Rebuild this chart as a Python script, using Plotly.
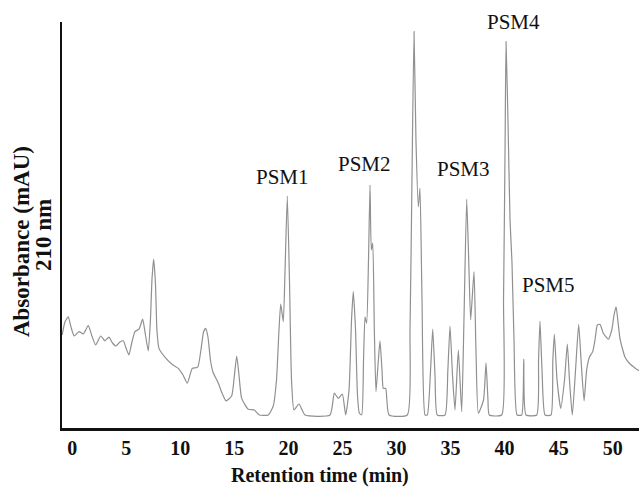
import plotly.graph_objects as go

# Retention time (min) and absorbance (arbitrary mAU scale)
time_min = [
    -0.92, -0.67, -0.36, -0.11, 0.19, 0.63, 1.03, 1.49, 1.83, 2.17,
    2.64, 3.03, 3.40, 3.73, 4.05, 4.42, 4.73, 4.98, 5.25, 5.53,
    5.81, 6.18, 6.52, 6.78, 7.04, 7.24, 7.38, 7.54, 7.71, 7.84,
    8.03, 8.58, 9.20, 9.82, 10.25, 10.65, 11.11, 11.61, 11.91, 12.15,
    12.35, 12.56, 12.79, 13.02, 13.52, 13.86, 14.23, 14.75, 15.01, 15.22,
    15.43, 15.68, 16.29, 16.85, 17.31, 18.14, 18.60, 18.90, 19.13, 19.29,
    19.53, 19.69, 19.90, 20.10, 20.29, 20.52, 20.98, 21.54, 23.85, 24.25,
    24.62, 24.99, 25.30, 25.61, 25.84, 26.00, 26.21, 26.39, 26.56, 26.78,
    26.95, 27.09, 27.24, 27.41, 27.55, 27.67, 27.80, 27.95, 28.10, 28.29,
    28.47, 28.66, 28.78, 29.00, 29.31, 31.00, 31.25, 31.43, 31.62, 31.80,
    32.02, 32.17, 32.36, 32.64, 32.85, 33.15, 33.35, 33.56, 33.77, 34.49,
    34.75, 34.95, 35.18, 35.41, 35.72, 36.03, 36.24, 36.49, 36.68, 36.86,
    37.17, 37.35, 37.57, 38.05, 38.28, 38.46, 38.58, 39.73, 39.90, 40.04,
    40.13, 40.31, 40.50, 40.68, 40.87, 41.15, 41.58, 41.77, 41.98, 42.97,
    43.14, 43.27, 43.46, 43.74, 44.29, 44.46, 44.60, 44.85, 45.19, 45.54,
    45.80, 46.00, 46.26, 46.56, 46.85, 47.07, 47.35, 47.59, 47.84, 48.15,
    48.36, 48.58, 48.83, 49.13, 49.59, 49.91, 50.12, 50.31, 50.49, 50.68,
    51.14, 51.60, 52.06, 52.43,
]
absorbance = [
    23.25, 26.5, 27.8, 25.25, 23.0, 24.1, 23.5, 25.6, 23.0, 20.75,
    23.0, 21.8, 22.7, 21.25, 20.5, 21.5, 21.8, 20.0, 18.25, 21.5,
    24.1, 24.7, 27.2, 23.25, 19.25, 27.0, 37.0, 42.25, 35.75, 24.5,
    19.9, 17.7, 16.0, 14.9, 13.25, 11.2, 14.9, 15.2, 19.5, 24.0,
    24.9, 22.75, 17.0, 14.0, 11.2, 8.75, 6.8, 8.0, 13.25, 18.0,
    13.25, 7.4, 4.7, 4.5, 3.25, 3.25, 5.5, 12.0, 24.5, 31.0,
    26.6, 39.5, 58.0, 37.0, 12.0, 4.5, 6.0, 3.25, 3.25, 8.7,
    7.4, 8.5, 3.25, 9.5, 27.0, 34.1, 24.5, 8.25, 3.7, 3.25,
    17.0, 27.8, 26.2, 42.0, 60.75, 44.5, 46.2, 24.5, 9.1, 15.75,
    21.8, 14.5, 9.9, 9.9, 3.25, 3.25, 24.5, 62.0, 99.1, 72.0,
    55.3, 59.9, 32.0, 3.25, 3.25, 14.5, 24.7, 13.25, 3.25, 3.25,
    14.5, 25.5, 13.25, 4.5, 19.5, 4.1, 27.0, 57.2, 42.0, 27.0,
    39.1, 19.5, 3.7, 7.0, 16.3, 7.0, 3.25, 3.25, 32.0, 69.5,
    96.6, 77.0, 52.0, 41.5, 22.0, 3.25, 3.25, 17.2, 3.25, 3.25,
    17.0, 26.75, 14.5, 3.25, 3.25, 17.0, 23.4, 12.0, 4.9, 12.0,
    21.0, 12.0, 3.25, 14.5, 25.9, 17.0, 6.8, 14.5, 17.7, 19.1,
    22.0, 25.75, 25.9, 23.7, 22.2, 24.5, 28.25, 30.3, 26.5, 22.2,
    17.7, 16.0, 15.0, 14.3,
]

x_ticks = [0, 5, 10, 15, 20, 25, 30, 35, 40, 45, 50]
x_tick_labels = ["0", "5", "10", "15", "20", "25", "30", "35", "40", "45", "50"]

peak_labels = ["PSM1", "PSM2", "PSM3", "PSM4", "PSM5"]
peak_label_x = [19.5, 27.0, 36.24, 40.78, 44.1]
peak_label_y = [62.75, 66.0, 64.75, 101.4, 35.75]

SERIF = "Liberation Serif, Times New Roman, serif"

fig = go.Figure()
fig.add_trace(go.Scatter(
    x=time_min, y=absorbance, mode="lines",
    line=dict(color="#909090", width=1.2, shape="spline", smoothing=0.5),
    hoverinfo="skip", showlegend=False,
))

for txt, lx, ly in zip(peak_labels, peak_label_x, peak_label_y):
    fig.add_annotation(
        x=lx, y=ly, xref="x", yref="y", text=txt, showarrow=False,
        xanchor="center", yanchor="middle",
        font=dict(family=SERIF, size=21, color="#111111"),
    )

fig.add_annotation(
    x=0.447, y=-0.116, xref="paper", yref="paper",
    text="Retention time (min)", showarrow=False,
    xanchor="center", yanchor="middle",
    font=dict(family=SERIF, size=20, color="#111111", weight="bold"),
)
fig.add_annotation(
    x=-0.071, y=0.458, xref="paper", yref="paper",
    text="Absorbance (mAU)", showarrow=False, textangle=-90,
    xanchor="center", yanchor="middle",
    font=dict(family=SERIF, size=23, color="#111111", weight="bold"),
)
fig.add_annotation(
    x=-0.033, y=0.475, xref="paper", yref="paper",
    text="210 nm", showarrow=False, textangle=-90,
    xanchor="center", yanchor="middle",
    font=dict(family=SERIF, size=23, color="#111111", weight="bold"),
)

fig.update_layout(
    width=639, height=488,
    margin=dict(l=62, r=0, t=22, b=60),
    paper_bgcolor="white", plot_bgcolor="white",
    xaxis=dict(
        range=[-0.94, 52.43], tickmode="array", tickvals=x_ticks,
        ticktext=x_tick_labels, ticks="", showgrid=False, zeroline=False,
        showline=True, linecolor="#111111", linewidth=3,
        tickfont=dict(family=SERIF, size=20, color="#111111", weight="bold"),
    ),
    yaxis=dict(
        range=[0, 101.5], showticklabels=False, ticks="", showgrid=False,
        zeroline=False, showline=True, linecolor="#111111", linewidth=2,
    ),
)

fig.write_html(
    "out.html",
    config={"displayModeBar": False},
    post_script="document.body.style.margin='0';document.body.style.overflow='hidden';",
)
